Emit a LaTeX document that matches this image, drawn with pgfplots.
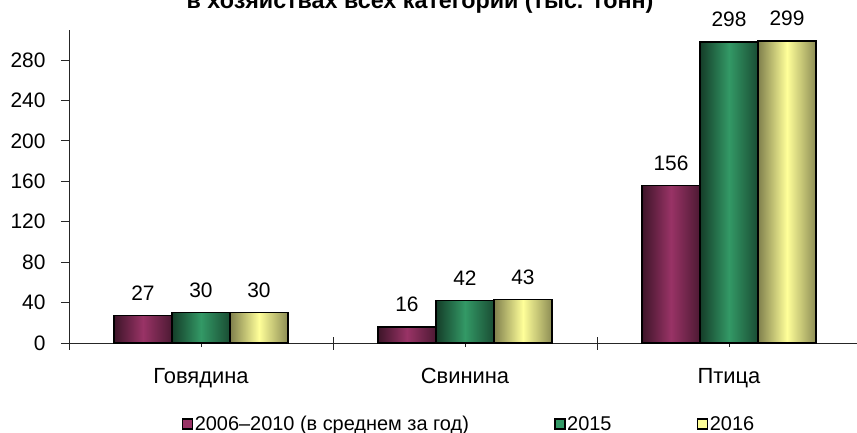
\documentclass[border=0pt]{standalone}
\usepackage{pgfplots}
\pgfplotsset{compat=1.18}
\usepackage{fontspec}
\setmainfont{Liberation Sans}
\definecolor{cA}{RGB}{153,51,102}
\definecolor{cB}{RGB}{51,153,102}
\definecolor{cC}{RGB}{255,255,153}
\pgfplotsset{
  barA/.style={ybar, bar width=58bp, bar shift=-58bp, draw=black, line width=1.5bp,
    left color=cA!40!black, right color=cA!50!black, middle color=cA, forget plot,
    nodes near coords style={xshift=-58bp}},
  barB/.style={ybar, bar width=58bp, bar shift=0bp, draw=black, line width=1.5bp,
    left color=cB!40!black, right color=cB!50!black, middle color=cB, forget plot},
  barC/.style={ybar, bar width=58bp, bar shift=58bp, draw=black, line width=1.5bp,
    left color=cC!50!black, right color=cC!55!black, middle color=cC, forget plot,
    nodes near coords style={xshift=58bp}},
}
\begin{document}
\begin{tikzpicture}[font=\fontsize{21}{25}\selectfont]
\begin{axis}[
  at={(0,0)}, anchor=south west,
  scale only axis, width=792bp, height=313.3bp,
  xmin=-0.5, xmax=2.5, ymin=0, ymax=310,
  axis x line=bottom, axis y line=left,
  axis line style={-, line width=0.8bp, black!85},
  ytick={0,40,...,280},
  xtick={0,1,2},
  xticklabels={Говядина,Свинина,Птица},
  minor xtick={-0.5,0.5,1.5,2.5},
  tick align=outside,
  major tick length=8bp, minor tick length=13bp,
  every tick/.append style={line width=0.8bp, black!85},
  every major x tick/.append style={yshift=4bp},
  every minor x tick/.append style={yshift=6.5bp},
  /pgf/number format/assume math mode=true,
  tick label style={font=\fontsize{21}{25}\selectfont},
  yticklabel style={xshift=-12bp},
  xticklabel style={anchor=base, yshift=-32bp, font=\fontsize{22}{26}\selectfont},
  nodes near coords,
  nodes near coords style={anchor=base, yshift=15bp, font=\fontsize{21}{25}\selectfont},
  legend columns=3,
  legend style={at={(113bp,-81bp)}, anchor=west, draw=none, fill=none,
    inner sep=0pt, outer sep=0pt, font=\fontsize{20}{24}\selectfont,
    /tikz/every even column/.append style={column sep=84bp},
    nodes={inner sep=1.5bp}},
  legend image code/.code={\draw[line width=1.3bp] (0bp,-5bp) rectangle (10bp,5bp);},
]
\addplot[barA] coordinates {(0,27)};
\addplot[barA] coordinates {(1,16)};
\addplot[barA] coordinates {(2,156)};
\addplot[barB] coordinates {(0,30)};
\addplot[barB] coordinates {(1,42)};
\addplot[barB] coordinates {(2,298)};
\addplot[barC] coordinates {(0,30)};
\addplot[barC] coordinates {(1,43)};
\addplot[barC] coordinates {(2,299)};
\addlegendimage{fill=cA, draw=black}
\addlegendentry{2006–2010 (в среднем за год)}
\addlegendimage{fill=cB, draw=black}
\addlegendentry{2015}
\addlegendimage{fill=cC, draw=black}
\addlegendentry{2016}
\end{axis}
\node[font=\bfseries\fontsize{23.4}{28}\selectfont, anchor=base] at (351bp,334bp) {в хозяйствах всех категорий (тыс. тонн)};
\pgfresetboundingbox
\useasboundingbox (-69bp,-90bp) rectangle (788bp,343bp);
\end{tikzpicture}
\end{document}
